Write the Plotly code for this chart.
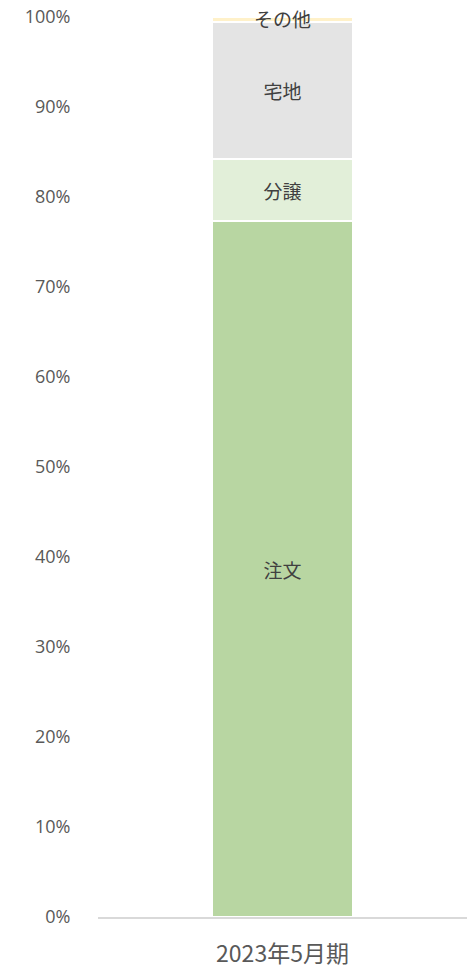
import plotly.graph_objects as go

categories = ["2023年5月期"]
series_names = ["注文", "分譲", "宅地", "その他"]
series_values = [[77.3], [6.9], [15.3], [0.5]]
colors = ["#b8d6a2", "#e2efd9", "#e4e4e4", "#fff1c9"]
y_ticks = [0, 10, 20, 30, 40, 50, 60, 70, 80, 90, 100]

font_family = "Noto Sans CJK JP, Noto Sans, sans-serif"
num_family = "Open Sans, Noto Sans CJK JP, sans-serif"

fig = go.Figure()
for name, vals, col in zip(series_names, series_values, colors):
    show_text = name != "その他"
    fig.add_trace(go.Bar(
        x=categories, y=vals, name=name,
        marker=dict(color=col, line=dict(color="white", width=2)),
        text=[name] if show_text else None,
        textposition="inside" if show_text else "none",
        insidetextanchor="middle",
        textfont=dict(size=19, color="#404040", family=font_family),
        width=0.38, hoverinfo="skip",
    ))

# label for the thin top segment
cum = sum(v[0] for v in series_values[:3])
fig.add_annotation(x=categories[0], y=cum + series_values[3][0] / 2,
                   text="その他", showarrow=False,
                   font=dict(size=19, color="#404040", family=font_family),
                   yshift=1)

fig.update_layout(
    barmode="stack",
    width=475, height=971,
    margin=dict(l=98, r=8, t=17, b=54),
    paper_bgcolor="white", plot_bgcolor="white",
    showlegend=False,
    uniformtext=dict(minsize=19, mode="show"),
    font=dict(family=font_family, color="#595959"),
)
fig.update_yaxes(range=[0, 100], tickvals=y_ticks,
                 ticktext=[f"{t}%" for t in y_ticks],
                 showgrid=False, zeroline=False, showline=False,
                 tickfont=dict(size=18, color="#595959", family=num_family),
                 ticks="outside", ticklen=0, ticklabelstandoff=23,
                 automargin=False)
fig.update_xaxes(showline=True, linecolor="#d9d9d9", linewidth=2,
                 tickfont=dict(size=23, color="#595959", family=font_family),
                 ticks="outside", ticklen=0, ticklabelstandoff=15,
                 showgrid=False, automargin=False)

fig.write_html("out.html")
